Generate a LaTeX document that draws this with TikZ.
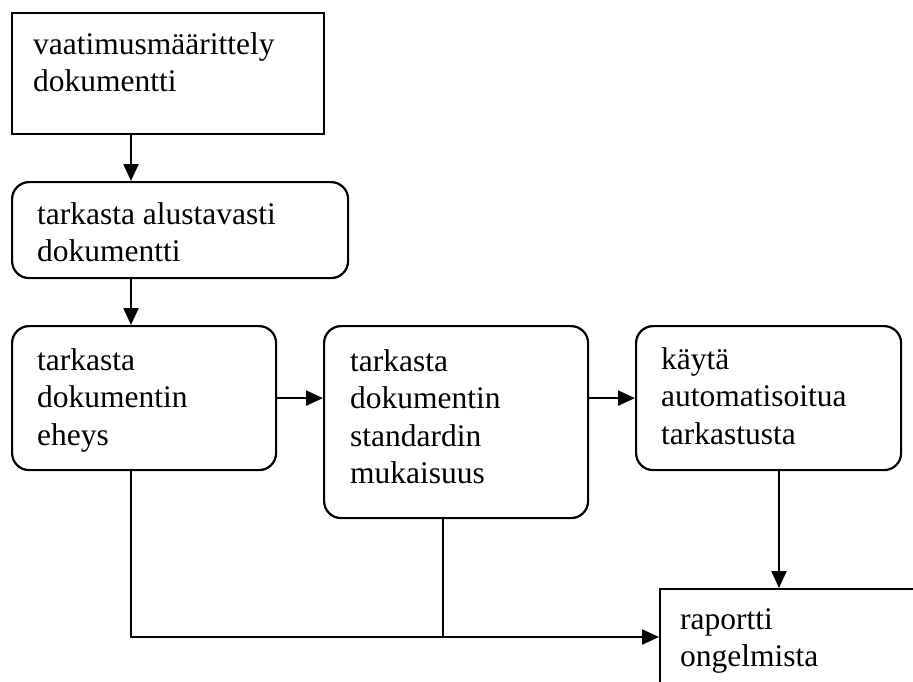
\documentclass[tikz,border=0pt]{standalone}
\usepackage{fontspec}
\setmainfont{Liberation Serif}
\usetikzlibrary{arrows.meta}
% top-aligned block of text with a fixed width and height
\newcommand{\boxtext}[3]{\parbox[t][#2][t]{#1}{\raggedright\strut #3}}
\begin{document}
\begin{tikzpicture}[x=1pt,y=-1pt,
  font=\fontsize{31.5}{37.5}\selectfont,
  sqbox/.style={draw, line width=2.2pt, anchor=north west},
  rbox/.style={sqbox, rounded corners=17pt},
  flow/.style={line width=2.2pt, -{Triangle[length=17pt,width=15pt]}},
  link/.style={line width=2.2pt}]
\useasboundingbox (0,0) rectangle (913,681);
\clip (0,0) rectangle (913,681);
\fill[white] (0,0) rectangle (913,681);

% boxes
\node[sqbox, inner xsep=21pt, inner ysep=14.75pt] (b1) at (11,12)
  {\boxtext{270pt}{91.5pt}{vaatimusmäärittely\\dokumentti}};
\node[rbox, inner xsep=25pt, inner ysep=15.75pt] (b2) at (11,181)
  {\boxtext{286pt}{64.5pt}{tarkasta alustavasti\\dokumentti}};
\node[rbox, inner xsep=25pt, inner ysep=17.75pt] (b3) at (11,325)
  {\boxtext{214pt}{108.5pt}{tarkasta\\dokumentin\\eheys}};
\node[rbox, inner xsep=26pt, inner ysep=18.75pt] (b4) at (323,325)
  {\boxtext{212pt}{154.5pt}{tarkasta\\dokumentin\\standardin\\mukaisuus}};
\node[rbox, inner xsep=25pt, inner ysep=16.75pt] (b5) at (635,325)
  {\boxtext{215pt}{110.5pt}{käytä\\automatisoitua\\tarkastusta}};
\node[sqbox, inner xsep=20pt, inner ysep=13.75pt] (b6) at (659,588)
  {\boxtext{236pt}{104.5pt}{raportti\\ongelmista}};

% routing points
\coordinate (colA) at (131,0);
\coordinate (colC) at (779,0);
\coordinate (merge) at (443,637);

% connectors
\draw[flow] (b1.south -| colA) -- (b2.north -| colA);
\draw[flow] (b2.south -| colA) -- (b3.north -| colA);
\draw[flow] (b3.east) -- (b4.west |- b3.east);
\draw[flow] (b4.east |- b5.west) -- (b5.west);
\draw[flow] (b5.south -| colC) -- (b6.north -| colC);
\draw[flow] (b3.south -| colA) |- (b6.west |- merge);
\draw[link] (b4.south -| merge) -- (merge);
\end{tikzpicture}
\end{document}
